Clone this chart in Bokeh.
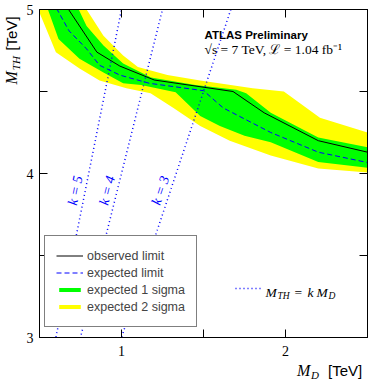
import math
from bokeh.plotting import figure
from bokeh.layouts import column
from bokeh.models import Range1d, FixedTicker, LinearAxis, Label, Legend, LegendItem, Div
from bokeh.embed import file_html
from bokeh.resources import INLINE

# ---------------- data ----------------
obs_x = [0.644, 0.85, 0.99, 1.20, 1.68, 1.87, 2.20, 2.50]
obs_y = [5.05, 4.74, 4.655, 4.57, 4.50, 4.37, 4.20, 4.13]

exp_x = [0.58, 0.68, 0.787, 0.866, 0.99, 1.17, 1.50, 1.62, 1.91, 2.20, 2.50]
exp_y = [5.05, 4.87, 4.76, 4.66, 4.60, 4.55, 4.505, 4.40, 4.25, 4.13, 4.067]

g_up_x = [0.72, 0.787, 0.89, 1.01, 1.18, 1.45, 1.70, 1.76, 1.91, 2.20, 2.50]
g_up_y = [5.04, 4.90, 4.78, 4.67, 4.585, 4.54, 4.51, 4.49, 4.37, 4.22, 4.16]
g_lo_x = [0.53, 0.616, 0.744, 0.89, 1.01, 1.12, 1.33, 1.48, 1.60, 1.75, 1.91, 2.20, 2.50]
g_lo_y = [5.06, 4.82, 4.70, 4.616, 4.55, 4.54, 4.495, 4.35, 4.29, 4.23, 4.19, 4.07, 4.035]

y_up_x = [0.755, 0.787, 0.89, 1.01, 1.10, 1.28, 1.48, 1.80, 1.99, 2.21, 2.50]
y_up_y = [5.05, 5.00, 4.84, 4.72, 4.65, 4.60, 4.567, 4.52, 4.50, 4.34, 4.25]
y_lo_x = [0.45, 0.60, 0.744, 0.866, 1.03, 1.177, 1.317, 1.48, 1.66, 1.91, 2.20, 2.50]
y_lo_y = [5.10, 4.74, 4.64, 4.567, 4.52, 4.49, 4.40, 4.29, 4.20, 4.11, 4.03, 4.006]

k_values = [5, 4, 3]
x_major = [1, 2]
x_minor = [1.5]
y_major = [3, 4, 5]
y_minor = [3.5, 4.5]
legend_labels = ["observed limit", "expected limit", "expected 1 sigma", "expected 2 sigma"]

# ---------------- layout ----------------
W, H = 368, 382
X0, X1, Y0, Y1 = 0.5, 2.5, 3.0, 5.0
FL, FR, FT, FB = 39, 367, 9, 337


def py2y(py):
    return Y0 + (FB - py) * (Y1 - Y0) / (FB - FT)


fig = figure(frame_width=FR - FL, frame_height=FB - FT,
             min_border_left=FL, min_border_right=W - FR,
             min_border_top=FT, min_border_bottom=H - FB,
             x_range=Range1d(X0, X1), y_range=Range1d(Y0, Y1),
             output_backend="svg", toolbar_location=None,
             margin=(0, 0, 0, 0))
fig.xgrid.visible = False
fig.ygrid.visible = False
fig.outline_line_color = "black"
fig.outline_line_width = 1
fig.background_fill_color = "white"
fig.border_fill_color = "white"

SERIF = "Liberation Serif"
SANS = "Liberation Sans"


def style_axis(ax, labels=True):
    ax.major_tick_in = 8
    ax.major_tick_out = 0
    ax.minor_tick_in = 8
    ax.minor_tick_out = 0
    ax.axis_line_color = "black"
    ax.major_tick_line_color = "black"
    ax.minor_tick_line_color = "black"
    ax.major_label_text_font = SERIF
    ax.major_label_text_color = "black"
    if labels:
        ax.major_label_text_font_size = "14px"
    else:
        ax.major_label_text_alpha = 0
        ax.major_label_text_font_size = "1px"
        ax.major_label_standoff = 0


fig.xaxis[0].ticker = FixedTicker(ticks=x_major, minor_ticks=x_minor)
fig.yaxis[0].ticker = FixedTicker(ticks=y_major, minor_ticks=y_minor)
style_axis(fig.xaxis[0])
style_axis(fig.yaxis[0])
fig.xaxis[0].major_label_standoff = 8
fig.yaxis[0].major_label_standoff = 6

top = LinearAxis(ticker=FixedTicker(ticks=x_major, minor_ticks=x_minor))
style_axis(top, labels=False)
fig.add_layout(top, "above")
right = LinearAxis(ticker=FixedTicker(ticks=y_major, minor_ticks=y_minor))
style_axis(right, labels=False)
fig.add_layout(right, "right")

# ---------------- bands and lines ----------------
YELLOW = "#ffff00"
GREEN = "#00ff00"
BLUE = "#0000ff"

r_y = fig.patch(y_up_x + y_lo_x[::-1], y_up_y + y_lo_y[::-1],
                fill_color=YELLOW, line_color=None)
r_g = fig.patch(g_up_x + g_lo_x[::-1], g_up_y + g_lo_y[::-1],
                fill_color=GREEN, line_color=None)
r_e = fig.line(exp_x, exp_y, line_color=BLUE, line_width=1, line_dash="5 3")
r_o = fig.line(obs_x, obs_y, line_color="black", line_width=1)

k_lines = []
for k in k_values:
    r = fig.line([X0, X1], [k * X0, k * X1], line_color=BLUE, line_width=1.5,
                 line_dash="1 3")
    k_lines.append(r)

# k labels along the lines
for k in k_values:
    yc = py2y(190)
    xc = yc / k - 10 * (X1 - X0) / (FR - FL)
    fig.add_layout(Label(x=xc, y=yc, text=f"k = {k}", angle=math.atan(k),
                         text_align="center", text_baseline="middle",
                         text_font=SERIF, text_font_style="italic",
                         text_font_size="14px", text_color=BLUE))

# ---------------- legends ----------------
leg = Legend(items=[LegendItem(label=legend_labels[0], renderers=[r_o]),
                    LegendItem(label=legend_labels[1], renderers=[r_e]),
                    LegendItem(label=legend_labels[2], renderers=[r_g]),
                    LegendItem(label=legend_labels[3], renderers=[r_y])],
             location=(5, 10), border_line_color="black", border_line_width=1,
             background_fill_color="white", background_fill_alpha=1,
             label_text_font=SANS, label_text_font_size="12.5px",
             glyph_width=27, glyph_height=5, label_height=17, spacing=0,
             padding=11, label_standoff=4, margin=0)
fig.add_layout(leg)

leg2 = Legend(items=[LegendItem(label=" ", renderers=[k_lines[0]])],
              location=(235 - FL, FB - 293), border_line_alpha=0,
              background_fill_alpha=0, label_text_font_size="1px",
              glyph_width=27, glyph_height=10, label_height=10, spacing=0,
              padding=0, label_standoff=0, margin=0)
fig.add_layout(leg2)


def lab(px, py, text, size, font=SERIF, style="normal", color="black"):
    # canvas pixel position -> screen units (from frame bottom-left)
    fig.add_layout(Label(x=px - FL, y=FB - py, x_units="screen", y_units="screen",
                         text=text, text_align="left", text_baseline="alphabetic",
                         text_font=font, text_font_style=style,
                         text_font_size=size, text_color=color))


# M_TH = k M_D
lab(265, 292, "M", "13.5px", style="italic")
lab(277, 295, "TH", "9.5px", style="italic")
lab(294, 292, "=", "13.5px")
lab(307, 292, "k", "13.5px", style="italic")
lab(316, 292, "M", "13.5px", style="italic")
lab(328, 295, "D", "9.5px", style="italic")

# ATLAS text
lab(204, 34, "ATLAS Preliminary", "11.5px", font=SANS, style="bold")
lab(204, 49, "\u221as = 7 TeV, \u2112 = 1.04 fb\u207b\u00b9", "13.5px")

# ---------------- axis titles (outside the frame): HTML overlay ----------------
spans = []


def span(px, py, text, size, family, style="normal", rot=False):
    asc = 0.84 * size
    css = (f"position:absolute;left:{px}px;top:{py - asc:.1f}px;"
           f"font-family:'{family}';font-size:{size}px;font-style:{style};"
           "line-height:1;white-space:nowrap;color:#000;")
    if rot:
        css += f"transform-origin:0px {asc:.1f}px;transform:rotate(-90deg);"
    spans.append(f'<span style="{css}">{text}</span>')


# x axis title
span(297, 376, "M", 16, SERIF, "italic")
span(311, 379, "D", 11, SERIF, "italic")
span(328, 376, "[TeV]", 15, SANS)
# y axis title (rotated)
span(17, 84, "M", 16, SERIF, "italic", rot=True)
span(20, 70, "TH", 11, SERIF, "italic", rot=True)
span(17, 51, "[TeV]", 15, SANS, rot=True)

overlay = Div(text=f'<div style="position:relative;width:{W}px;height:{H}px;">'
              + "".join(spans) + "</div>",
              width=W, height=H, margin=(-H, 0, 0, 0))

p = column(fig, overlay, spacing=0)
open("out.html", "w").write(file_html(p, INLINE))
